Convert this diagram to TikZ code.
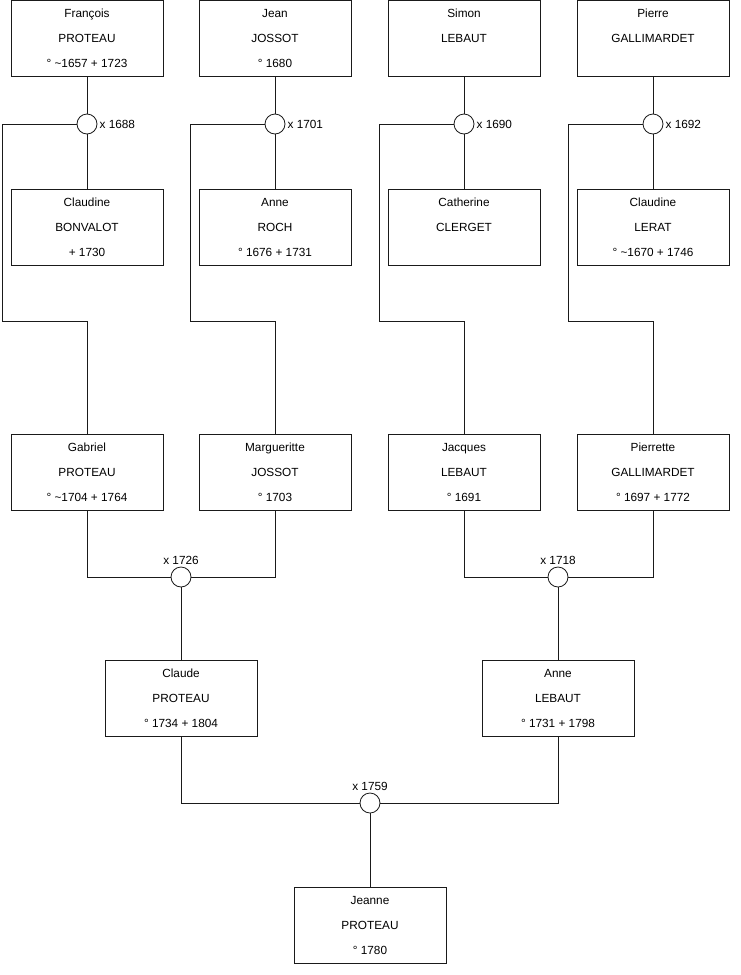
\documentclass[tikz,border=0pt]{standalone}
\usepackage{fontspec}
\setmainfont{Liberation Sans}
\usetikzlibrary{calc}

\begin{document}
\begin{tikzpicture}[x=1pt, y=-1pt,
    person/.style={draw=lineColour, line width=0.8pt, fill=white, minimum width=152, minimum height=76,
        align=center, inner sep=0pt, font=\fontsize{11.8}{25}\selectfont},
    wedding/.style={draw=lineColour, line width=0.8pt, fill=white, circle, minimum size=20, inner sep=0pt},
    year/.style={font=\fontsize{11.8}{13}\selectfont, inner sep=2pt},
    link/.style={draw=lineColour, line width=0.8pt}]
    % Define colours
    \definecolor{lineColour}{HTML}{1A1A1A}

    % Fix the page size
    \useasboundingbox (0,0) rectangle (740,975);

    % Define coordinates for the bends of the side lines
    \coordinate (k1) at (2,321);
    \coordinate (k2) at (190,321);
    \coordinate (k3) at (379,321);
    \coordinate (k4) at (568,321);

    % Great-grandfathers
    \node[person] (fp) at (87,38.5) {François\\PROTEAU\\° \textasciitilde1657 + 1723};
    \node[person] (jj) at (275,38.5) {Jean\\JOSSOT\\° 1680};
    \node[person] (sl) at (464,38.5) {Simon\\LEBAUT\\};
    \node[person] (pg) at (653,38.5) {Pierre\\GALLIMARDET\\};

    % Weddings of the first row
    \node[wedding] (m1) at (87,124) {};
    \node[wedding] (m2) at (275,124) {};
    \node[wedding] (m3) at (464,124) {};
    \node[wedding] (m4) at (653,124) {};
    \node[year, right] (y1) at (m1.east) {x 1688};
    \node[year, right] (y2) at (m2.east) {x 1701};
    \node[year, right] (y3) at (m3.east) {x 1690};
    \node[year, right] (y4) at (m4.east) {x 1692};

    % Great-grandmothers
    \node[person] (cb) at (87,227) {Claudine\\BONVALOT\\+ 1730};
    \node[person] (ar) at (275,227) {Anne\\ROCH\\° 1676 + 1731};
    \node[person] (cc) at (464,227) {Catherine\\CLERGET\\};
    \node[person] (cl) at (653,227) {Claudine\\LERAT\\° \textasciitilde1670 + 1746};

    % Grandparents
    \node[person] (gp) at (87,472) {Gabriel\\PROTEAU\\° \textasciitilde1704 + 1764};
    \node[person] (mj) at (275,472) {Margueritte\\JOSSOT\\° 1703};
    \node[person] (jl) at (464,472) {Jacques\\LEBAUT\\° 1691};
    \node[person] (pi) at (653,472) {Pierrette\\GALLIMARDET\\° 1697 + 1772};

    % Weddings of the grandparents
    \node[wedding] (m5) at (181,577) {};
    \node[wedding] (m6) at (558,577) {};
    \node[year, above] (y5) at (m5.north) {x 1726};
    \node[year, above] (y6) at (m6.north) {x 1718};

    % Parents
    \node[person] (cp) at (181,698) {Claude\\PROTEAU\\° 1734 + 1804};
    \node[person] (al) at (558,698) {Anne\\LEBAUT\\° 1731 + 1798};

    % Wedding of the parents
    \node[wedding] (m7) at (370,803) {};
    \node[year, above] (y7) at (m7.north) {x 1759};

    % Child
    \node[person] (jp) at (370,925) {Jeanne\\PROTEAU\\° 1780};

    % Draw the links of the first row
    \draw[link] (fp) -- (m1) -- (cb);
    \draw[link] (jj) -- (m2) -- (ar);
    \draw[link] (sl) -- (m3) -- (cc);
    \draw[link] (pg) -- (m4) -- (cl);

    % Draw the side lines down to the children
    \draw[link] (m1.west) -| (k1) -| (gp.north);
    \draw[link] (m2.west) -| (k2) -| (mj.north);
    \draw[link] (m3.west) -| (k3) -| (jl.north);
    \draw[link] (m4.west) -| (k4) -| (pi.north);

    % Draw the links of the grandparents
    \draw[link] (gp.south) |- (m5.west);
    \draw[link] (mj.south) |- (m5.east);
    \draw[link] (jl.south) |- (m6.west);
    \draw[link] (pi.south) |- (m6.east);
    \draw[link] (m5) -- (cp);
    \draw[link] (m6) -- (al);

    % Draw the links of the parents
    \draw[link] (cp.south) |- (m7.west);
    \draw[link] (al.south) |- (m7.east);
    \draw[link] (m7) -- (jp);

\end{tikzpicture}
\end{document}
